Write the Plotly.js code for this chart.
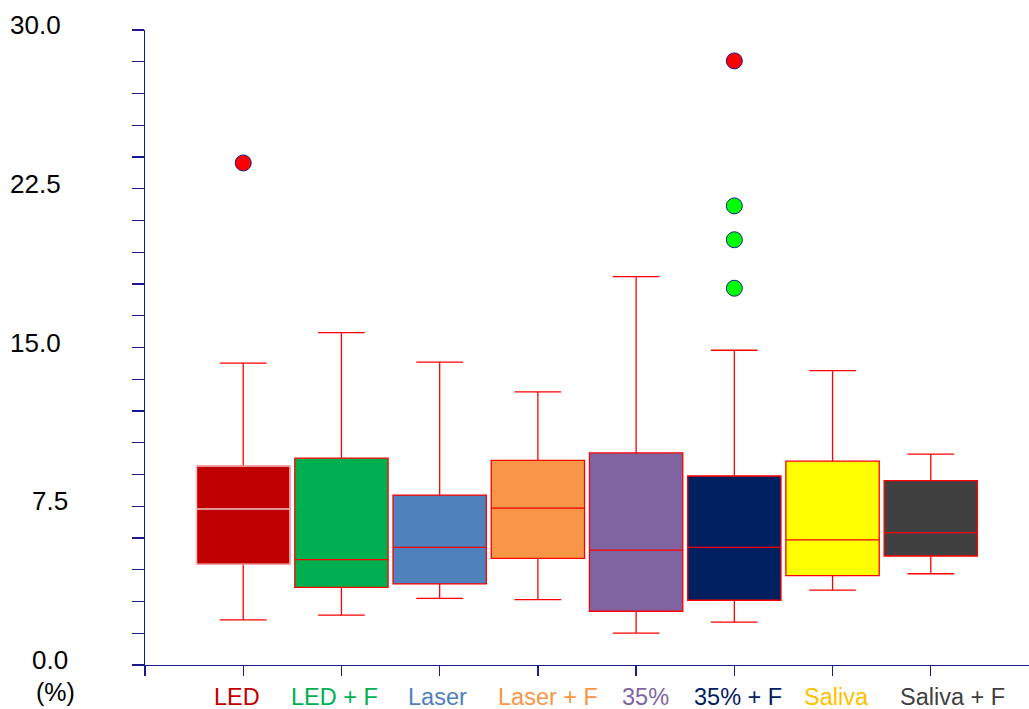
<!DOCTYPE html>
<html>
<head>
<meta charset="utf-8">
<script src="https://cdn.plot.ly/plotly-3.0.1.min.js"></script>
<style>html,body{margin:0;padding:0;background:#fff;}#chart{width:1029px;height:709px;}</style>
</head>
<body>
<div id="chart"></div>
<script>
// ---- data ----
const categories = ['LED', 'LED + F', 'Laser', 'Laser + F', '35%', '35% + F', 'Saliva', 'Saliva + F'];
const q1         = [4.77, 3.67, 3.83, 5.04, 2.54, 3.06, 4.22, 5.15];
const medians    = [7.37, 4.98, 5.56, 7.41, 5.43, 5.56, 5.91, 6.25];
const q3         = [9.40, 9.77, 8.03, 9.67, 10.02, 8.93, 9.63, 8.71];
const lowerWhisk = [2.13, 2.36, 3.15, 3.09, 1.51, 2.03, 3.54, 4.31];
const upperWhisk = [14.26, 15.70, 14.31, 12.90, 18.35, 14.87, 13.91, 9.96];
// far-out values (red) and outside values (green)
const farOutCats   = ['LED', '35% + F'];
const farOutVals   = [23.72, 28.54];
const outsideCats  = ['35% + F', '35% + F', '35% + F'];
const outsideVals  = [21.69, 20.09, 17.80];
const yTickVals    = [0, 7.5, 15, 22.5, 30];
const yTickText    = ['0.0', '7.5', '15.0', '22.5', '30.0'];
const yUnitLabel   = '(%)';

// ---- styles ----
const fillColors  = ['#C00000', '#00B050', '#4F81BD', '#F79646', '#8064A2', '#002060', '#FFFF00', '#404040'];
const labelColors = ['#C00000', '#00B050', '#4F81BD', '#F79646', '#8064A2', '#002060', '#FFC000', '#404040'];
const labelShift  = [-6.5, -6.7, -2, 10, 9, 3.5, 3.7, 22];   // label offsets (px) as laid out in the original
const navy = '#1A1A8C';

const traces = [];
categories.forEach((c, i) => {
  traces.push({
    type: 'box', x: [i], q1: [q1[i]], median: [medians[i]], q3: [q3[i]],
    lowerfence: [lowerWhisk[i]], upperfence: [upperWhisk[i]],
    width: 0.95, whiskerwidth: 0.5, boxpoints: false,
    fillcolor: fillColors[i], line: {color: '#FF0000', width: 1.3},
    hoverinfo: 'skip', showlegend: false
  });
});
// LED box has a light border and median line
traces.push({
  type: 'box', x: [0], q1: [q1[0]], median: [medians[0]], q3: [q3[0]],
  lowerfence: [q1[0]], upperfence: [q3[0]],
  width: 0.95, whiskerwidth: 0, boxpoints: false,
  fillcolor: fillColors[0], line: {color: '#F2C4C4', width: 1.3},
  hoverinfo: 'skip', showlegend: false
});
traces.push({
  type: 'scatter', mode: 'markers',
  x: farOutCats.map(c => categories.indexOf(c)), y: farOutVals,
  marker: {size: 16, color: '#FF0000', line: {color: navy, width: 1}},
  hoverinfo: 'skip', showlegend: false
});
traces.push({
  type: 'scatter', mode: 'markers',
  x: outsideCats.map(c => categories.indexOf(c)), y: outsideVals,
  marker: {size: 16, color: '#00FF00', line: {color: navy, width: 1}},
  hoverinfo: 'skip', showlegend: false
});

const xTickVals = [-1].concat(categories.map((c, i) => i));

const annotations = [];
categories.forEach((c, i) => {
  annotations.push({
    text: c, xref: 'x', yref: 'paper', x: i, y: 0, yshift: -32, xshift: labelShift[i],
    xanchor: 'center', yanchor: 'middle', showarrow: false,
    font: {size: 23.5, color: labelColors[i]}
  });
});
yTickVals.forEach((v, i) => {
  const t = yTickText[i];
  annotations.push({
    text: t, xref: 'paper', yref: 'y', x: 0, y: v,
    xshift: t.length > 3 ? -82 : -75, yshift: 5,
    xanchor: 'right', yanchor: 'middle', showarrow: false,
    font: {size: 26, color: '#000'}
  });
});
annotations.push({
  text: yUnitLabel, xref: 'paper', yref: 'paper', x: 0, y: 0, xshift: -90, yshift: -27,
  xanchor: 'center', yanchor: 'middle', showarrow: false,
  font: {size: 25, color: '#000'}
});

const layout = {
  width: 1029, height: 709,
  margin: {l: 145, r: 0, t: 30, b: 44},
  paper_bgcolor: '#fff', plot_bgcolor: '#fff',
  boxmode: 'overlay',
  font: {family: 'Liberation Sans, Arial, sans-serif', color: '#000'},
  xaxis: {
    range: [-1, 8], showgrid: false, zeroline: false,
    showline: true, linecolor: navy, linewidth: 1.3,
    tickmode: 'array', tickvals: xTickVals, showticklabels: false,
    ticks: 'outside', ticklen: 10, tickcolor: navy, tickwidth: 1.3
  },
  yaxis: {
    range: [0, 30], showgrid: false, zeroline: false,
    showline: true, linecolor: navy, linewidth: 1.3,
    tickmode: 'array', tickvals: yTickVals, showticklabels: false,
    ticks: 'outside', ticklen: 12, tickcolor: navy, tickwidth: 1.3,
    minor: {dtick: 1.5, tick0: 0, ticks: 'outside', ticklen: 12, tickcolor: navy, tickwidth: 1.3, showgrid: false}
  },
  annotations: annotations
};

Plotly.newPlot('chart', traces, layout, {staticPlot: true, displayModeBar: false});
</script>
</body>
</html>
